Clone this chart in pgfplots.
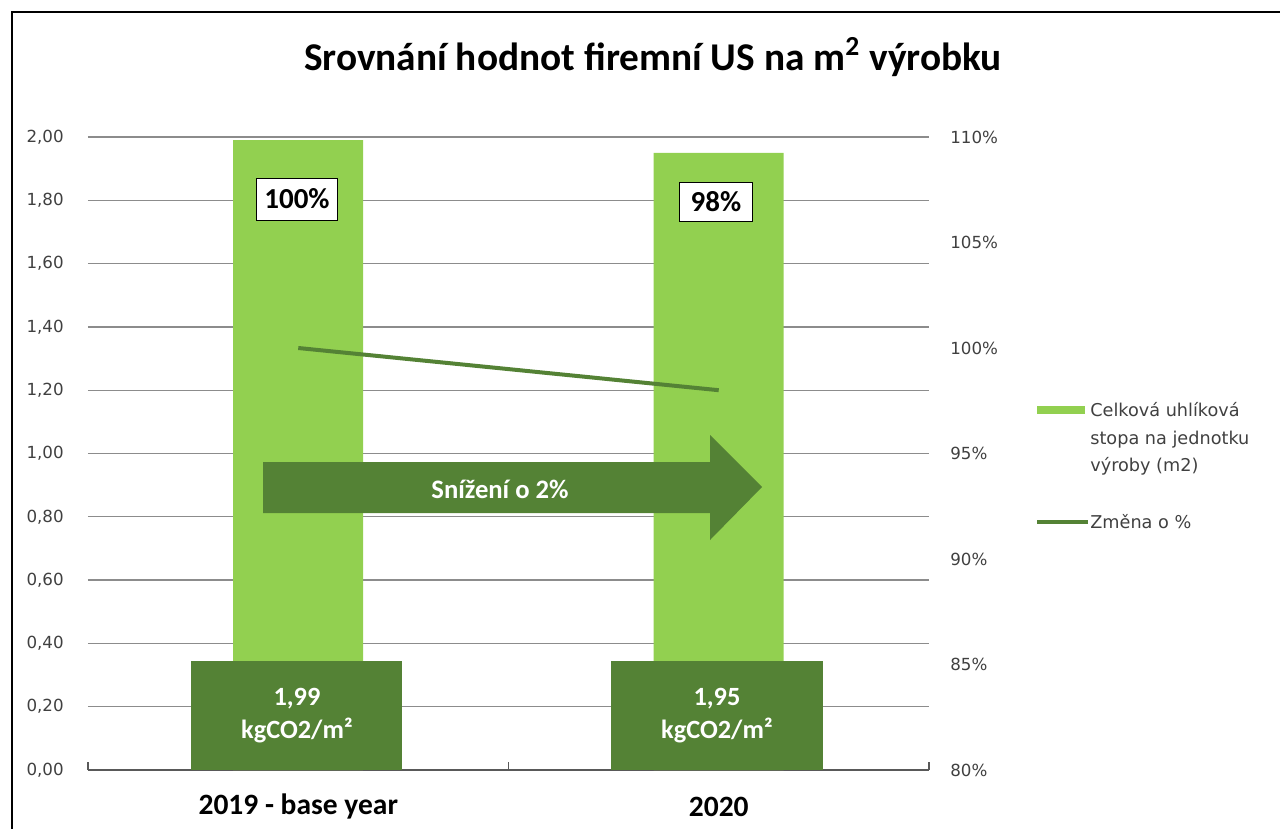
\documentclass[border=0pt]{standalone}
\usepackage{fontspec}
\setmainfont{Carlito}
\newfontfamily\dejavu{DejaVu Sans}
\usepackage{pgfplots}
\pgfplotsset{compat=1.18}
\definecolor{lg}{HTML}{92D050}
\definecolor{dg}{HTML}{548235}
\definecolor{gridc}{HTML}{8C8C8C}
\definecolor{axc}{HTML}{595959}
\definecolor{txt}{HTML}{404040}
\begin{document}
\begin{tikzpicture}
\begin{scope}[x=0.6pt,y=-0.6pt]
\useasboundingbox (0,0) rectangle (1280,828);
\draw[line width=1.2pt] (12,830) -- (12,12) -- (1282,12);
\node[font=\bfseries\fontsize{23.6}{26}\selectfont] at (653,57) {Srovnání hodnot firemní US na m\textsuperscript{2} výrobku};
\end{scope}

\begin{axis}[at={(52.8pt,-462pt)}, anchor=south west, scale only axis,
  width=504.6pt, height=379.8pt,
  xmin=-0.5, xmax=1.5, ymin=0, ymax=2,
  ytick={0,0.2,0.4,0.6,0.8,1.0,1.2,1.4,1.6,1.8,2.0},
  xtick={0,1}, xticklabels={2019 - base year,2020},
  minor xtick={-0.5,0.5,1.5},
  axis x line*=bottom, axis y line*=left,
  y axis line style={draw=none},
  x axis line style={draw=axc, line width=0.75pt},
  major tick length=0pt, minor tick length=4.8pt,
  xtick align=inside,
  minor x tick style={draw=axc, line width=0.75pt},
  ymajorgrids, grid style={draw=gridc, line width=0.75pt},
  /pgf/number format/assume math mode=true,
  yticklabel style={font=\dejavu\fontsize{10}{11}\selectfont, text=txt, anchor=east, xshift=-11.1pt,
    /pgf/number format/.cd, fixed, fixed zerofill, precision=2, use comma},
  xticklabel style={font=\bfseries\fontsize{17.7}{18}\selectfont, text=black, anchor=center, yshift=-22pt},
]
\addplot[ybar, bar width=78pt, bar shift=0pt, fill=lg, draw=none] coordinates {(0,1.99) (1,1.95)};
\end{axis}

\begin{axis}[at={(52.8pt,-462pt)}, anchor=south west, scale only axis,
  width=504.6pt, height=379.8pt,
  xmin=-0.5, xmax=1.5, ymin=80, ymax=110,
  ytick={80,85,90,95,100,105,110},
  axis x line=none, axis y line*=right,
  y axis line style={draw=none}, major tick length=0pt,
  /pgf/number format/assume math mode=true,
  yticklabel={\pgfmathprintnumber{\tick}\%},
  yticklabel style={font=\dejavu\fontsize{10}{11}\selectfont, text=txt, anchor=west, xshift=9.3pt},
]
\addplot[dg, line width=2.4pt] coordinates {(0,100) (1,98)};
\end{axis}

\begin{scope}[x=0.6pt,y=-0.6pt]
% annotations
\node[draw=black, line width=0.6pt, fill=white, minimum width=48.6pt, minimum height=25.2pt, inner sep=0pt,
  font=\bfseries\fontsize{17.4}{18}\selectfont] at (297,199) {100\%};
\node[draw=black, line width=0.6pt, fill=white, minimum width=43.8pt, minimum height=23.4pt, inner sep=0pt,
  font=\bfseries\fontsize{17.4}{18}\selectfont] at (716,202) {98\%};

\fill[dg] (263,462) -- (710,462) -- (710,435) -- (762,487) -- (710,540) -- (710,513) -- (263,513) -- cycle;
\node[text=white, font=\bfseries\fontsize{16}{18}\selectfont] at (500,489) {Snížení o 2\%};

\fill[dg] (191,661) rectangle (402,770);
\fill[dg] (611,661) rectangle (823,770);
\node[text=white, font=\bfseries\fontsize{15.8}{18}\selectfont] at (297,699) {1,99};
\node[text=white, font=\bfseries\fontsize{15.8}{18}\selectfont] at (297,730) {kgCO2/m²};
\node[text=white, font=\bfseries\fontsize{15.8}{18}\selectfont] at (717,699) {1,95};
\node[text=white, font=\bfseries\fontsize{15.8}{18}\selectfont] at (717,730) {kgCO2/m²};

% legend
\fill[lg] (1037,406) rectangle (1085,414);
\begin{scope}[every node/.style={anchor=base west, inner sep=0pt, text=txt, font=\dejavu\fontsize{10.6}{12}\selectfont}]
\node at (1090,416) {Celková uhlíková};
\node at (1090,444) {stopa na jednotku};
\node at (1090,471) {výroby (m2)};
\node at (1090,528) {Změna o \%};
\end{scope}
\draw[dg, line width=2.4pt] (1037,522) -- (1088,522);
\end{scope}
\end{tikzpicture}
\end{document}
